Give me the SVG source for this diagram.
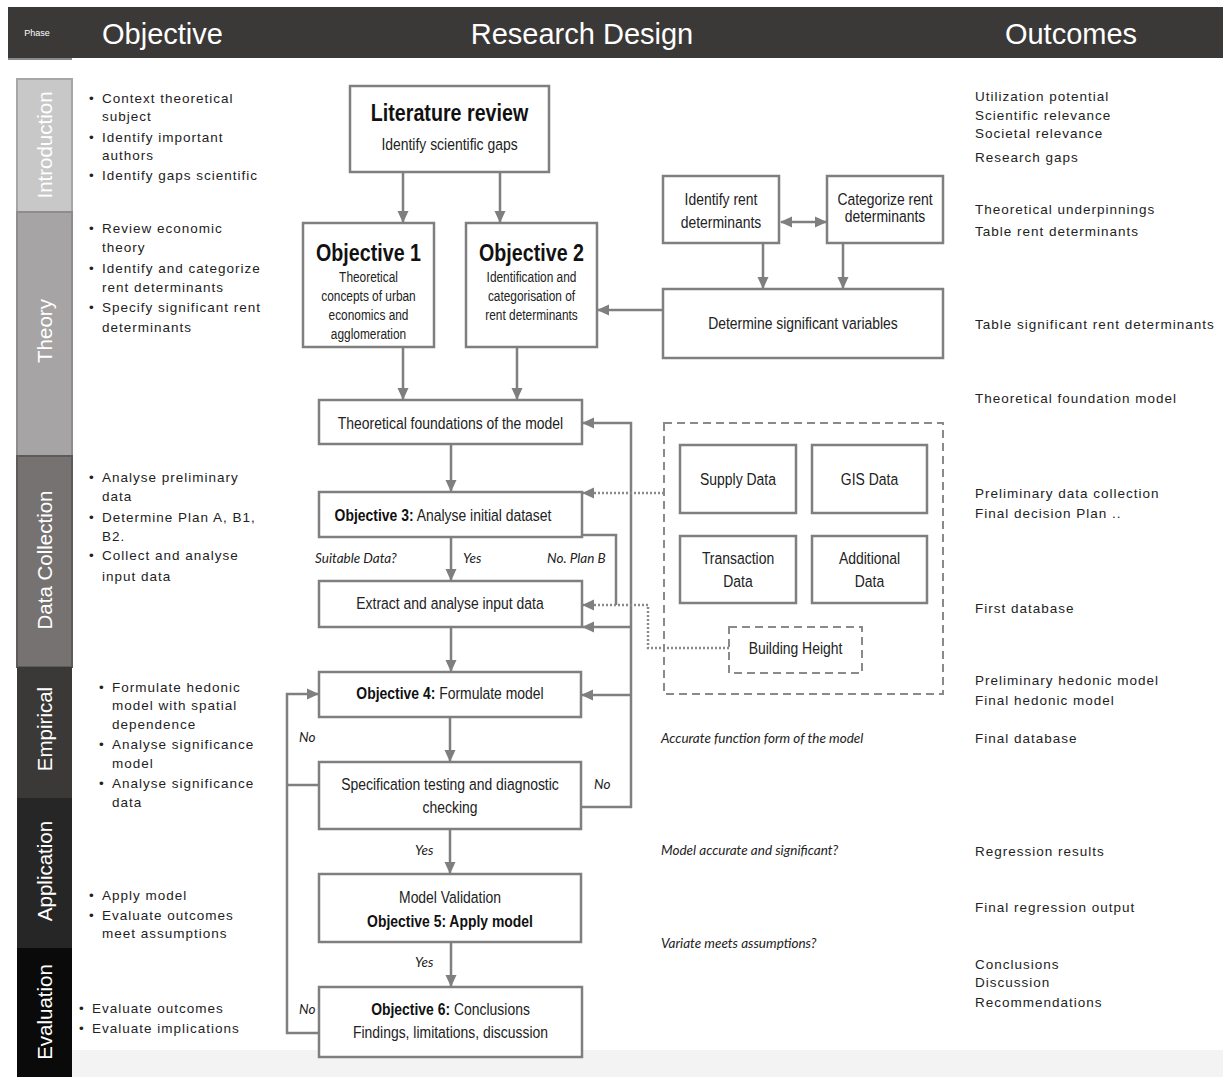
<svg xmlns="http://www.w3.org/2000/svg" width="1223" height="1077" viewBox="0 0 1223 1077">
<defs>
<marker id="ah" viewBox="0 0 12 12" markerWidth="12" markerHeight="12" markerUnits="userSpaceOnUse" refX="11" refY="6" orient="auto-start-reverse">
<path d="M0,0.5 L12,6 L0,11.5 z" fill="#7f7f7f"/>
</marker>
</defs>
<style>
.hdr{font-family:"Liberation Sans",Arial,sans-serif;fill:#fff}
.side{font-family:"Liberation Sans",Arial,sans-serif;fill:#fff;font-size:20.5px;text-anchor:middle}
.bul{font-family:"Liberation Sans",Arial,sans-serif;font-size:13.5px;letter-spacing:1px;fill:#222}
.out{font-family:"Liberation Sans",Arial,sans-serif;font-size:13.5px;letter-spacing:1px;fill:#222}
.box{fill:#fff;stroke:#7f7f7f;stroke-width:2.5}
.dbox{fill:none;stroke:#8a8a8a;stroke-width:2;stroke-dasharray:8 5}
.t{font-family:"Liberation Sans",Arial,sans-serif;font-size:17px;fill:#222;text-anchor:middle}
.ts{font-size:14.5px}
.tb{font-weight:bold;font-size:24px;fill:#111}
.b{font-weight:bold;fill:#111}
.lab{font-family:Lato,"Open Sans",sans-serif;font-style:italic;font-size:13.5px;fill:#222}
.c{fill:none;stroke:#7f7f7f;stroke-width:2.5}
.dot{fill:none;stroke:#8a8a8a;stroke-width:2.5;stroke-dasharray:2 2}
</style>
<rect width="1223" height="1077" fill="#fff"/>
<rect x="72" y="1050" width="1151" height="27" fill="#f3f3f3"/>
<g id="header">
<rect x="8" y="7" width="1215" height="51" fill="#3b3838"/>
<line x1="8" y1="59" x2="72" y2="59" stroke="#8a8a8a" stroke-width="2"/>
<text class="hdr" x="37" y="36" font-size="9" text-anchor="middle">Phase</text>
<text class="hdr" x="102" y="43.5" font-size="29">Objective</text>
<text class="hdr" x="582" y="43.5" font-size="29" text-anchor="middle">Research Design</text>
<text class="hdr" x="1071" y="43.5" font-size="29" text-anchor="middle">Outcomes</text>
</g>
<g id="phases">
<rect x="17" y="79" width="55" height="133" fill="#c8c8c8" stroke="#a6a6a6" stroke-width="2"/>
<rect x="17" y="212" width="55" height="244" fill="#a6a4a4" stroke="#8e8c8c" stroke-width="2"/>
<rect x="17" y="456" width="55" height="211" fill="#767272" stroke="#5e5a5a" stroke-width="2"/>
<rect x="17" y="667" width="55" height="131" fill="#3b3838"/>
<rect x="17" y="798" width="55" height="150" fill="#262626"/>
<rect x="17" y="948" width="55" height="129" fill="#0a0a0a"/>
<text class="side" transform="translate(52,145) rotate(-90)">Introduction</text>
<text class="side" transform="translate(52,331) rotate(-90)">Theory</text>
<text class="side" transform="translate(52,560) rotate(-90)">Data Collection</text>
<text class="side" transform="translate(52,729) rotate(-90)">Empirical</text>
<text class="side" transform="translate(52,871) rotate(-90)">Application</text>
<text class="side" transform="translate(52,1012) rotate(-90)">Evaluation</text>
</g>
<g id="objectives">
<text class="bul" x="89" y="103">•</text><text class="bul" x="102" y="103">Context theoretical</text>
<text class="bul" x="102" y="121">subject</text>
<text class="bul" x="89" y="142">•</text><text class="bul" x="102" y="142">Identify important</text>
<text class="bul" x="102" y="160">authors</text>
<text class="bul" x="89" y="180">•</text><text class="bul" x="102" y="180">Identify gaps scientific</text>
<text class="bul" x="89" y="233">•</text><text class="bul" x="102" y="233">Review economic</text>
<text class="bul" x="102" y="252">theory</text>
<text class="bul" x="89" y="273">•</text><text class="bul" x="102" y="273">Identify and categorize</text>
<text class="bul" x="102" y="292">rent determinants</text>
<text class="bul" x="89" y="312">•</text><text class="bul" x="102" y="312">Specify significant rent</text>
<text class="bul" x="102" y="332">determinants</text>
<text class="bul" x="89" y="482">•</text><text class="bul" x="102" y="482">Analyse preliminary</text>
<text class="bul" x="102" y="501">data</text>
<text class="bul" x="89" y="522">•</text><text class="bul" x="102" y="522">Determine Plan A, B1,</text>
<text class="bul" x="102" y="541">B2.</text>
<text class="bul" x="89" y="560">•</text><text class="bul" x="102" y="560">Collect and analyse</text>
<text class="bul" x="102" y="581">input data</text>
<text class="bul" x="99" y="692">•</text><text class="bul" x="112" y="692">Formulate hedonic</text>
<text class="bul" x="112" y="710">model with spatial</text>
<text class="bul" x="112" y="729">dependence</text>
<text class="bul" x="99" y="749">•</text><text class="bul" x="112" y="749">Analyse significance</text>
<text class="bul" x="112" y="768">model</text>
<text class="bul" x="99" y="788">•</text><text class="bul" x="112" y="788">Analyse significance</text>
<text class="bul" x="112" y="807">data</text>
<text class="bul" x="89" y="900">•</text><text class="bul" x="102" y="900">Apply model</text>
<text class="bul" x="89" y="920">•</text><text class="bul" x="102" y="920">Evaluate outcomes</text>
<text class="bul" x="102" y="938">meet assumptions</text>
<text class="bul" x="79" y="1013">•</text><text class="bul" x="92" y="1013">Evaluate outcomes</text>
<text class="bul" x="79" y="1033">•</text><text class="bul" x="92" y="1033">Evaluate implications</text>
</g>
<g id="outcomes">
<text class="out" x="975" y="101">Utilization potential</text>
<text class="out" x="975" y="120">Scientific relevance</text>
<text class="out" x="975" y="138">Societal relevance</text>
<text class="out" x="975" y="162">Research gaps</text>
<text class="out" x="975" y="214">Theoretical underpinnings</text>
<text class="out" x="975" y="236">Table rent determinants</text>
<text class="out" x="975" y="329">Table significant rent determinants</text>
<text class="out" x="975" y="403">Theoretical foundation model</text>
<text class="out" x="975" y="498">Preliminary data collection</text>
<text class="out" x="975" y="518">Final decision Plan ..</text>
<text class="out" x="975" y="613">First database</text>
<text class="out" x="975" y="685">Preliminary hedonic model</text>
<text class="out" x="975" y="705">Final hedonic model</text>
<text class="out" x="975" y="743">Final database</text>
<text class="out" x="975" y="856">Regression results</text>
<text class="out" x="975" y="912">Final regression output</text>
<text class="out" x="975" y="969">Conclusions</text>
<text class="out" x="975" y="987">Discussion</text>
<text class="out" x="975" y="1007">Recommendations</text>
</g>
<g id="connectors">
<line class="c" x1="403" y1="173" x2="403" y2="222" marker-end="url(#ah)"/>
<line class="c" x1="500" y1="173" x2="500" y2="222" marker-end="url(#ah)"/>
<line class="c" x1="781" y1="222" x2="826" y2="222" marker-start="url(#ah)" marker-end="url(#ah)"/>
<line class="c" x1="763" y1="243" x2="763" y2="288" marker-end="url(#ah)"/>
<line class="c" x1="843" y1="243" x2="843" y2="288" marker-end="url(#ah)"/>
<line class="c" x1="663" y1="310" x2="598" y2="310" marker-end="url(#ah)"/>
<line class="c" x1="403" y1="347" x2="403" y2="399" marker-end="url(#ah)"/>
<line class="c" x1="517" y1="347" x2="517" y2="399" marker-end="url(#ah)"/>
<line class="c" x1="451" y1="444" x2="451" y2="491" marker-end="url(#ah)"/>
<line class="c" x1="451" y1="537" x2="451" y2="580" marker-end="url(#ah)"/>
<line class="c" x1="451" y1="627" x2="451" y2="671" marker-end="url(#ah)"/>
<line class="c" x1="450" y1="717" x2="450" y2="761" marker-end="url(#ah)"/>
<line class="c" x1="450" y1="829" x2="450" y2="873" marker-end="url(#ah)"/>
<line class="c" x1="451" y1="942" x2="451" y2="986" marker-end="url(#ah)"/>
<polyline class="c" points="581,807 631,807 631,423 583,423" marker-end="url(#ah)"/>
<line class="c" x1="631" y1="627" x2="583" y2="627" marker-end="url(#ah)"/>
<line class="c" x1="631" y1="695" x2="582" y2="695" marker-end="url(#ah)"/>
<polyline class="c" points="582,535 616,535 616,605"/>
<polyline class="dot" points="729,648 648,648 648,605 583,605" marker-end="url(#ah)"/>
<line class="dot" x1="664" y1="493" x2="583" y2="493" marker-end="url(#ah)"/>
<polyline class="c" points="319,785 287,785"/>
<polyline class="c" points="319,1033 287,1033 287,694 318,694" marker-end="url(#ah)"/>
<text class="lab" x="315" y="563">Suitable Data?</text>
<text class="lab" x="463" y="563">Yes</text>
<text class="lab" x="547" y="563">No. Plan B</text>
<text class="lab" x="299" y="742">No</text>
<text class="lab" x="594" y="789">No</text>
<text class="lab" x="415" y="855">Yes</text>
<text class="lab" x="415" y="967">Yes</text>
<text class="lab" x="299" y="1014">No</text>
<text class="lab" x="661" y="743">Accurate function form of the model</text>
<text class="lab" x="661" y="855">Model accurate and significant?</text>
<text class="lab" x="661" y="948">Variate meets assumptions?</text>
</g>
<g id="literature-review">
<rect class="box" x="350" y="86" width="199" height="86"/>
<g transform="translate(449.5 0) scale(0.82 1)">
<text class="t tb" x="0" y="121.5">Literature review</text>
<text class="t" x="0" y="150">Identify scientific gaps</text>
</g>
</g>
<g id="objective-1">
<rect class="box" x="303" y="223" width="131" height="124"/>
<g transform="translate(368.5 0) scale(0.82 1)">
<text class="t tb" x="0" y="261.5">Objective 1</text>
<text class="t ts" x="0" y="282">Theoretical</text>
<text class="t ts" x="0" y="301">concepts of urban</text>
<text class="t ts" x="0" y="320">economics and</text>
<text class="t ts" x="0" y="339">agglomeration</text>
</g>
</g>
<g id="objective-2">
<rect class="box" x="466" y="223" width="131" height="124"/>
<g transform="translate(531.5 0) scale(0.82 1)">
<text class="t tb" x="0" y="261.5">Objective 2</text>
<text class="t ts" x="0" y="282">Identification and</text>
<text class="t ts" x="0" y="301">categorisation of</text>
<text class="t ts" x="0" y="320">rent determinants</text>
</g>
</g>
<g id="identify-rent">
<rect class="box" x="663" y="176" width="116" height="67"/>
<g transform="translate(721 0) scale(0.82 1)">
<text class="t" x="0" y="205">Identify rent</text>
<text class="t" x="0" y="228">determinants</text>
</g>
</g>
<g id="categorize-rent">
<rect class="box" x="827" y="176" width="116" height="67"/>
<g transform="translate(885 0) scale(0.82 1)">
<text class="t" x="0" y="205" font-size="14">Categorize rent</text>
<text class="t" x="0" y="222" font-size="14">determinants</text>
</g>
</g>
<g id="determine-variables">
<rect class="box" x="663" y="289" width="280" height="69"/>
<g transform="translate(803 0) scale(0.82 1)">
<text class="t" x="0" y="329">Determine significant variables</text>
</g>
</g>
<g id="theoretical-foundations">
<rect class="box" x="319" y="400" width="263" height="44"/>
<g transform="translate(450.5 0) scale(0.82 1)">
<text class="t" x="0" y="429">Theoretical foundations of the model</text>
</g>
</g>
<g id="objective-3">
<rect class="box" x="319" y="492" width="263" height="45"/>
<g transform="translate(443 0) scale(0.82 1)">
<text class="t" x="0" y="521"><tspan class="b">Objective 3:</tspan> Analyse initial dataset</text>
</g>
</g>
<g id="extract-data">
<rect class="box" x="319" y="581" width="263" height="46"/>
<g transform="translate(450 0) scale(0.82 1)">
<text class="t" x="0" y="609">Extract and analyse input data</text>
</g>
</g>
<g id="objective-4">
<rect class="box" x="319" y="672" width="262" height="45"/>
<g transform="translate(450 0) scale(0.82 1)">
<text class="t" x="0" y="699"><tspan class="b">Objective 4:</tspan> Formulate model</text>
</g>
</g>
<g id="specification-testing">
<rect class="box" x="319" y="762" width="262" height="67"/>
<g transform="translate(450 0) scale(0.82 1)">
<text class="t" x="0" y="790">Specification testing and diagnostic</text>
<text class="t" x="0" y="813">checking</text>
</g>
</g>
<g id="model-validation">
<rect class="box" x="319" y="874" width="262" height="68"/>
<g transform="translate(450 0) scale(0.82 1)">
<text class="t" x="0" y="903">Model Validation</text>
<text class="t b" x="0" y="927">Objective 5: Apply model</text>
</g>
</g>
<g id="objective-6">
<rect class="box" x="319" y="987" width="263" height="70"/>
<g transform="translate(450.5 0) scale(0.82 1)">
<text class="t" x="0" y="1015"><tspan class="b">Objective 6:</tspan> Conclusions</text>
<text class="t" x="0" y="1038">Findings, limitations, discussion</text>
</g>
</g>
<g id="data-sources">
<rect class="dbox" x="664" y="423" width="279" height="271"/>
</g>
<g id="supply-data">
<rect class="box" x="680" y="445" width="116" height="68"/>
<g transform="translate(738 0) scale(0.82 1)">
<text class="t" x="0" y="485">Supply Data</text>
</g>
</g>
<g id="gis-data">
<rect class="box" x="812" y="445" width="115" height="68"/>
<g transform="translate(869.5 0) scale(0.82 1)">
<text class="t" x="0" y="485">GIS Data</text>
</g>
</g>
<g id="transaction-data">
<rect class="box" x="680" y="536" width="116" height="67"/>
<g transform="translate(738 0) scale(0.82 1)">
<text class="t" x="0" y="564">Transaction</text>
<text class="t" x="0" y="587">Data</text>
</g>
</g>
<g id="additional-data">
<rect class="box" x="812" y="536" width="115" height="67"/>
<g transform="translate(869.5 0) scale(0.82 1)">
<text class="t" x="0" y="564">Additional</text>
<text class="t" x="0" y="587">Data</text>
</g>
</g>
<g id="building-height">
<rect class="dbox" x="729" y="627" width="133" height="46"/>
<g transform="translate(795.5 0) scale(0.82 1)">
<text class="t" x="0" y="654">Building Height</text>
</g>
</g>
</svg>
